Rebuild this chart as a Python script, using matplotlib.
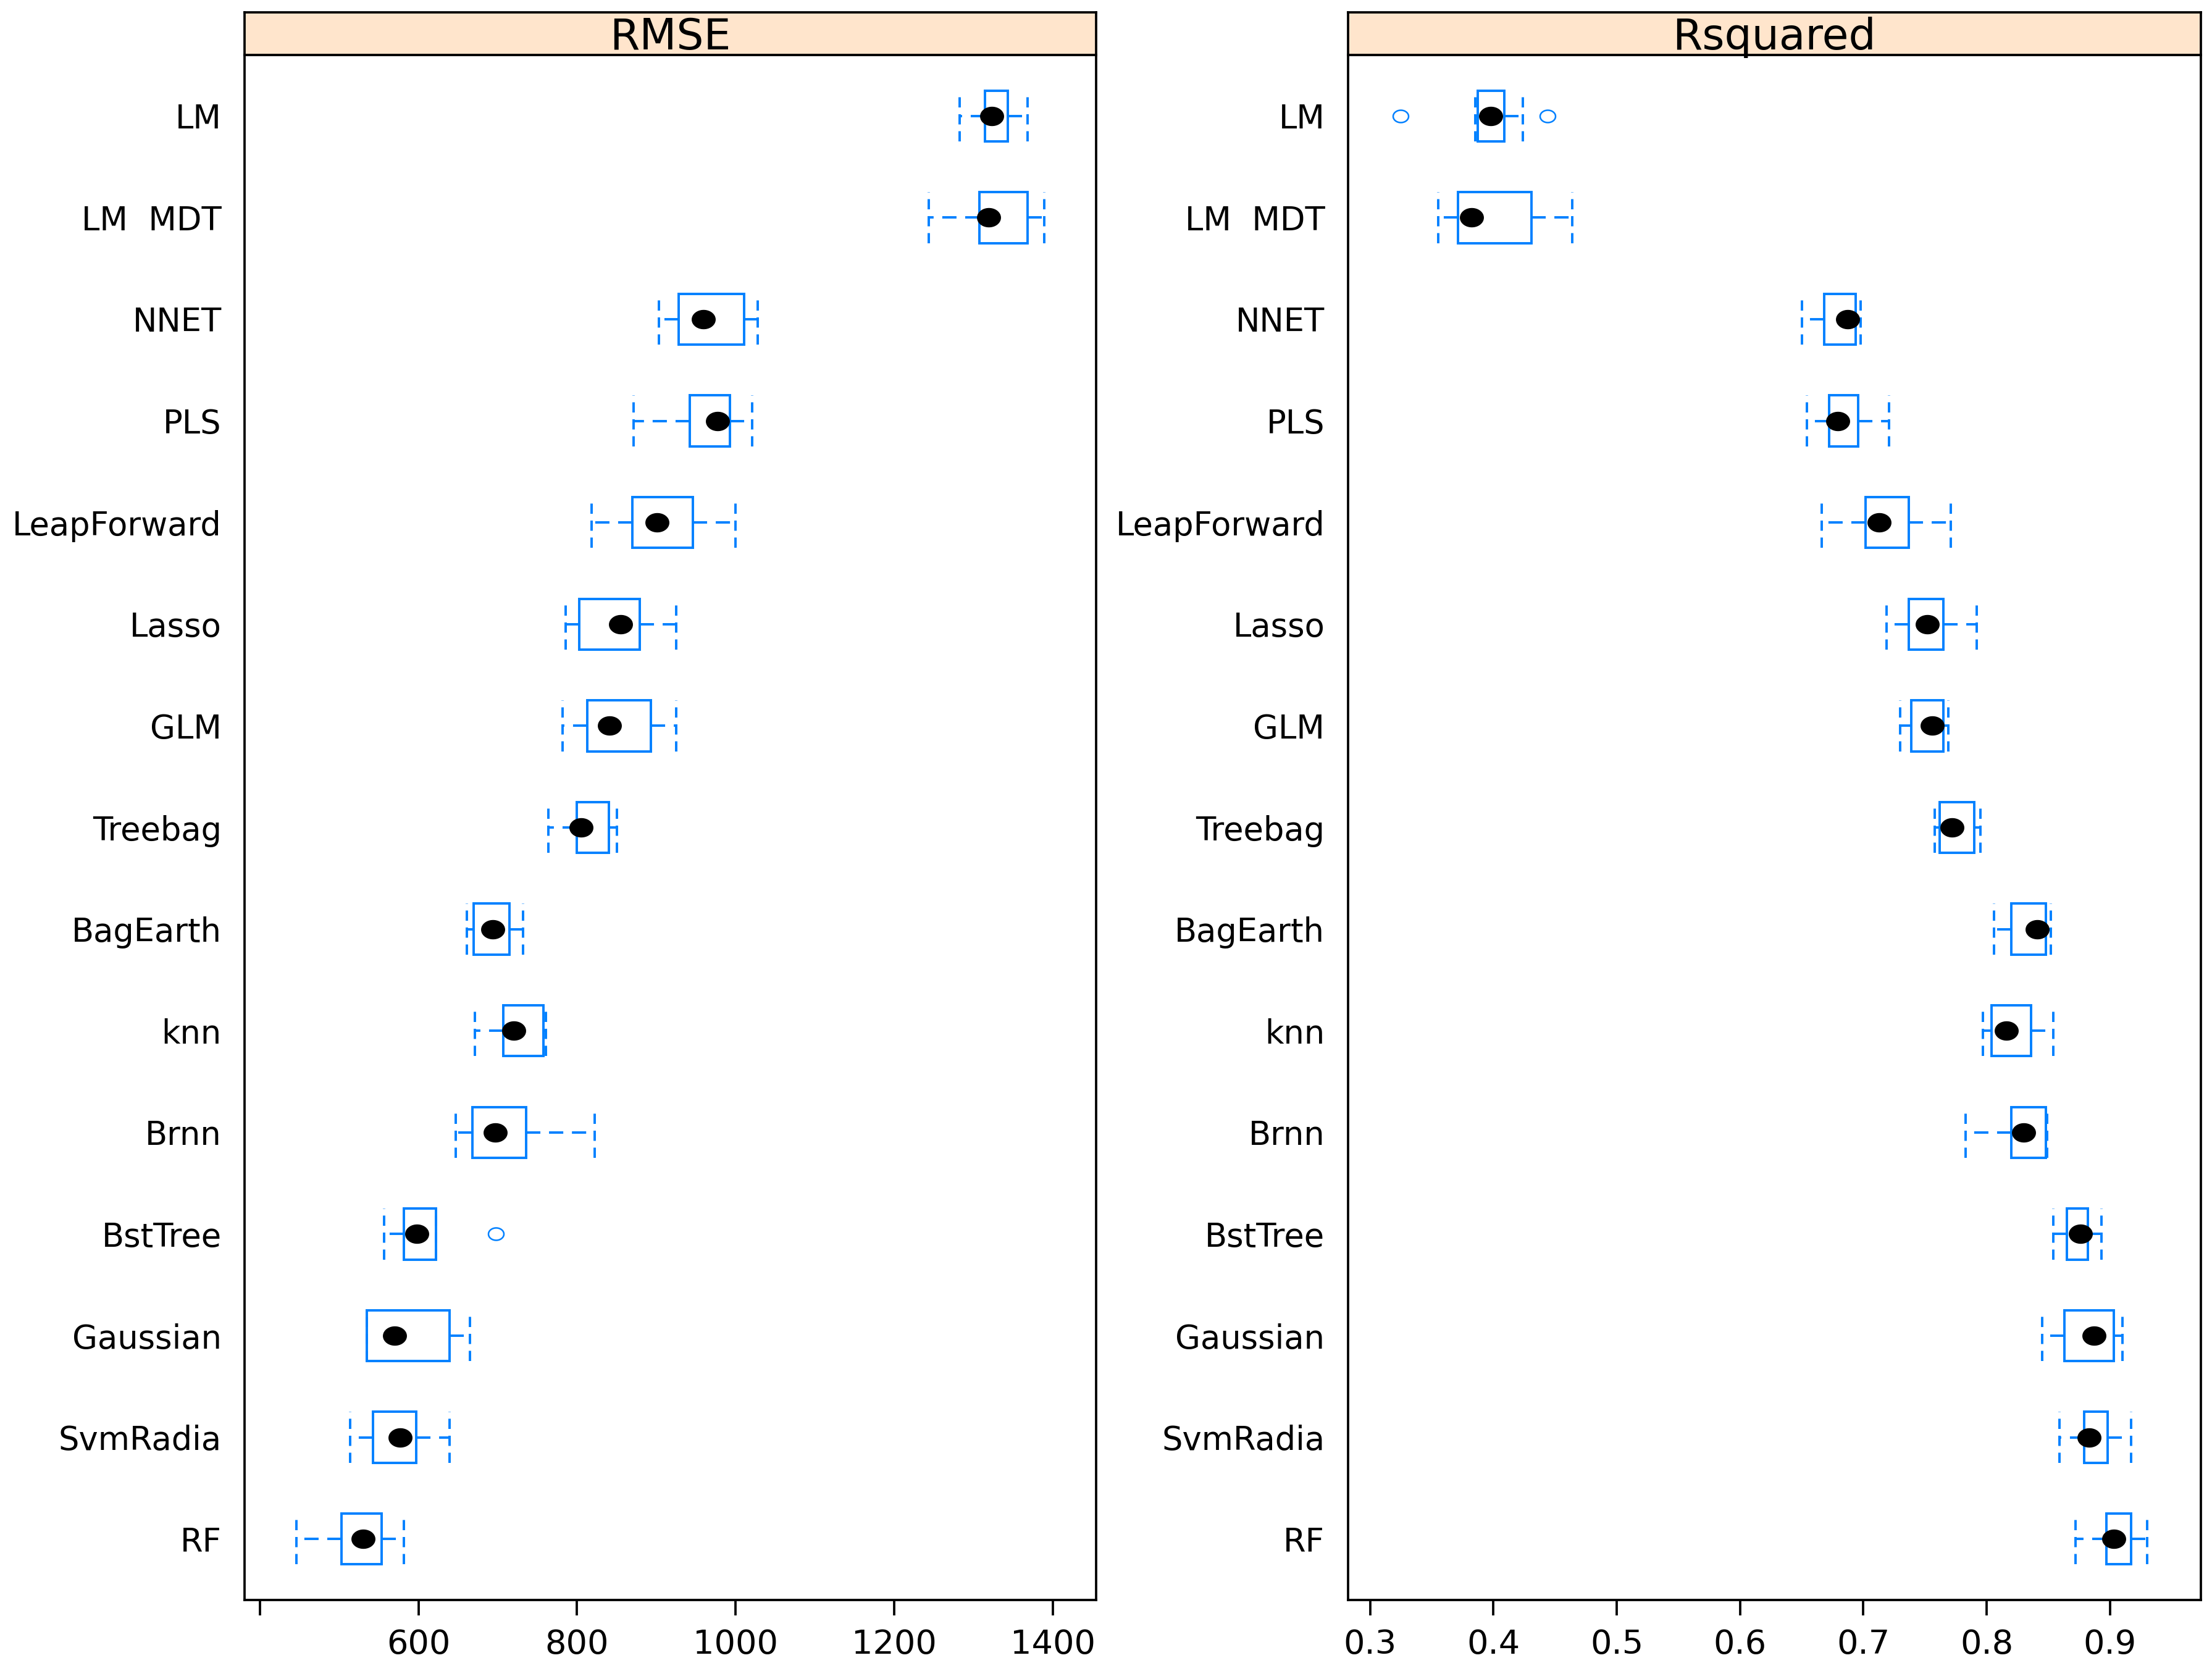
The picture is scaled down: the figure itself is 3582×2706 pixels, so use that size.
import numpy as np
import matplotlib
matplotlib.use("Agg")
import matplotlib.pyplot as plt
from matplotlib.path import Path
from matplotlib.patches import Rectangle

# --------------------------------------------------
# data, top row first
# --------------------------------------------------
models = ["LM", "LM  MDT", "NNET", "PLS", "LeapForward", "Lasso", "GLM",
          "Treebag", "BagEarth", "knn", "Brnn", "BstTree", "Gaussian",
          "SvmRadia", "RF"]

# RMSE: lower whisker, Q1, median, Q3, upper whisker
rmse_lo = [1282, 1243, 903, 871, 818, 786, 782, 764, 661, 671, 647, 557, 535, 514, 446]
rmse_q1 = [1314, 1307, 928, 942, 870, 803, 813, 800, 670, 707, 668, 582, 535, 543, 503]
rmse_med = [1323, 1319, 959, 977, 901, 855, 841, 805, 694, 720, 697, 598, 570, 577, 530]
rmse_q3 = [1343, 1368, 1011, 993, 946, 879, 893, 840, 715, 758, 736, 622, 639, 597, 554]
rmse_hi = [1368, 1389, 1028, 1021, 1000, 925, 925, 850, 732, 761, 822, 622, 665, 639, 582]
rmse_out = {"BstTree": [698]}

# Rsquared
rsq_lo = [0.385, 0.355, 0.650, 0.654, 0.666, 0.719, 0.730, 0.758, 0.806, 0.797, 0.783, 0.854, 0.845, 0.859, 0.872]
rsq_q1 = [0.387, 0.371, 0.668, 0.672, 0.702, 0.737, 0.739, 0.762, 0.820, 0.804, 0.820, 0.865, 0.863, 0.879, 0.897]
rsq_med = [0.398, 0.382, 0.687, 0.679, 0.713, 0.752, 0.756, 0.772, 0.841, 0.816, 0.830, 0.876, 0.887, 0.883, 0.903]
rsq_q3 = [0.409, 0.431, 0.694, 0.696, 0.737, 0.765, 0.765, 0.790, 0.848, 0.836, 0.848, 0.882, 0.903, 0.898, 0.917]
rsq_hi = [0.424, 0.464, 0.698, 0.721, 0.771, 0.792, 0.769, 0.795, 0.852, 0.854, 0.849, 0.893, 0.910, 0.917, 0.930]
rsq_out = {"LM": [0.3245, 0.4439]}

# --------------------------------------------------
# style
# --------------------------------------------------
plt.rcParams["font.family"] = ["DejaVu Sans"]
plt.rcParams["lines.scale_dashes"] = False
blue = "#0080ff"
strip_col = "#ffe5cc"
lw_box = 2.8
lw_frame = 2.7
dash_h = (0, (16.6, 10.1))
dash_v = (0, (11.9, 7.9))
half = 0.25

# ellipse marker (the source image is stretched horizontally)
t = np.linspace(0, 2 * np.pi, 60)
ell = Path(np.column_stack([1.25 * np.cos(t), np.sin(t)]), closed=True)

fig = plt.figure(figsize=(35.82, 27.06), dpi=100)

panels = [
    ("RMSE", [0.1106, 0.0425, 0.3850, 0.9246], (381, 1454.5),
     [400, 600, 800, 1000, 1200, 1400], ["", "600", "800", "1000", "1200", "1400"],
     rmse_lo, rmse_q1, rmse_med, rmse_q3, rmse_hi, rmse_out),
    ("Rsquared", [0.6094, 0.0425, 0.3855, 0.9246], (0.282, 0.9736),
     [0.3, 0.4, 0.5, 0.6, 0.7, 0.8, 0.9], ["0.3", "0.4", "0.5", "0.6", "0.7", "0.8", "0.9"],
     rsq_lo, rsq_q1, rsq_med, rsq_q3, rsq_hi, rsq_out),
]

n = len(models)
ypos = np.arange(n, 0, -1)

for title, rect, xlim, ticks, ticklabels, lo, q1, med, q3, hi, outl in panels:
    ax = fig.add_axes(rect)
    for i, name in enumerate(models):
        y = ypos[i]
        ax.add_patch(Rectangle((q1[i], y - half), q3[i] - q1[i], 2 * half,
                               fill=False, edgecolor=blue, lw=lw_box, zorder=3))
        # whiskers, drawn outward from the box
        ax.plot([q1[i], lo[i]], [y, y], color=blue, lw=lw_box, ls=dash_h, zorder=2)
        ax.plot([q3[i], hi[i]], [y, y], color=blue, lw=lw_box, ls=dash_h, zorder=2)
        # caps
        for c in (lo[i], hi[i]):
            ax.plot([c, c], [y - half, y + half], color=blue, lw=lw_box, ls=dash_v, zorder=2)
        ax.plot(med[i], y, marker=ell, ms=27, color="black", mec="black", zorder=4)
        if name in outl:
            ax.plot(outl[name], [y] * len(outl[name]), ls="none", marker=ell, ms=18,
                    mfc="none", mec=blue, mew=1.8, zorder=4)

    ax.set_xlim(xlim)
    ax.set_ylim(0.4, 15.6)
    ax.set_xticks(ticks)
    ax.set_xticklabels(ticklabels)
    ax.set_yticks(ypos)
    ax.set_yticklabels(models)
    ax.tick_params(axis="x", length=18, width=lw_frame, pad=15, labelsize=39, direction="out")
    ax.tick_params(axis="y", length=0, pad=27, labelsize=38)
    for s in ax.spines.values():
        s.set_linewidth(lw_frame)

    # strip on top
    sx = fig.add_axes([rect[0], rect[1] + rect[3], rect[2], 0.0255])
    sx.set_facecolor(strip_col)
    sx.set_xticks([])
    sx.set_yticks([])
    for s in sx.spines.values():
        s.set_linewidth(lw_frame)
    sx.text(0.5, 0.13, title, ha="center", va="baseline", fontsize=50,
            transform=sx.transAxes)

fig.savefig("out.png", dpi=100)
